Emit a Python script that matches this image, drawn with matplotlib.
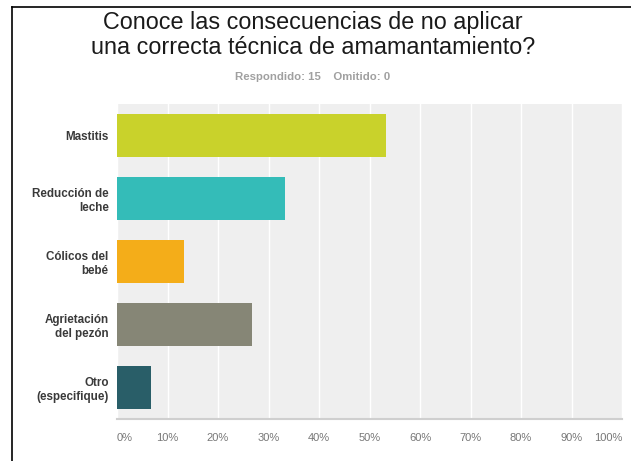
import numpy as np
import matplotlib.pyplot as plt
from matplotlib.lines import Line2D

categories = ["Mastitis", "Reducción de\nleche", "Cólicos del\nbebé", "Agrietación\ndel pezón", "Otro\n(especifique)"]
values = [53.33, 33.33, 13.33, 26.67, 6.67]
colors = ["#c9d22b", "#34bcb8", "#f4ad19", "#868676", "#295e68"]
ticks = list(range(0, 101, 10))
tick_labels = [f"{t}%" for t in ticks]

plt.rcParams['font.family'] = ['Liberation Sans', 'DejaVu Sans']

fig = plt.figure(figsize=(6.31, 4.61), dpi=100)
ax = fig.add_axes([117/631, 1 - 419/461, 505/631, 315/461])
ax.set_facecolor("#efefef")

y = np.arange(len(categories))
ax.barh(y, values, height=0.667, color=colors, zorder=3)
ax.set_xlim(0, 100)
ax.set_ylim(len(categories) - 0.5, -0.5)

ax.set_xticks(ticks)
ax.set_xticklabels(tick_labels, color="#777777", fontsize=8)
lbls = ax.get_xticklabels()
lbls[0].set_ha("left")
lbls[-1].set_ha("right")
ax.tick_params(axis="x", length=0, pad=10)
ax.grid(axis="x", color="white", linewidth=1, zorder=1)

ax.set_yticks(y)
ax.set_yticklabels(categories, fontsize=8.4, fontweight="bold", color="#3a3a3a", linespacing=1.22)
ax.tick_params(axis="y", length=0, pad=6)

for s in ["top", "right", "left"]:
    ax.spines[s].set_visible(False)
ax.spines["bottom"].set_color("#cfcfcf")
ax.spines["bottom"].set_linewidth(1.5)

fig.text(0.496, 1 - 22/461, "Conoce las consecuencias de no aplicar", ha="center", va="center",
         fontsize=16.8, color="#1a1a1a")
fig.text(0.496, 1 - 47/461, "una correcta técnica de amamantamiento?", ha="center", va="center",
         fontsize=16.8, color="#1a1a1a")
fig.text(0.496, 1 - 77/461, "Respondido: 15    Omitido: 0", ha="center", va="center",
         fontsize=8.2, fontweight="bold", color="#a0a0a0")

# frame of the screenshot
fig.add_artist(Line2D([12/631, 12/631], [0, 1 - 7/461], color="black", linewidth=1.2, transform=fig.transFigure))
fig.add_artist(Line2D([12/631, 1], [1 - 7/461, 1 - 7/461], color="black", linewidth=1.2, transform=fig.transFigure))

fig.savefig("out.png", dpi=100)
